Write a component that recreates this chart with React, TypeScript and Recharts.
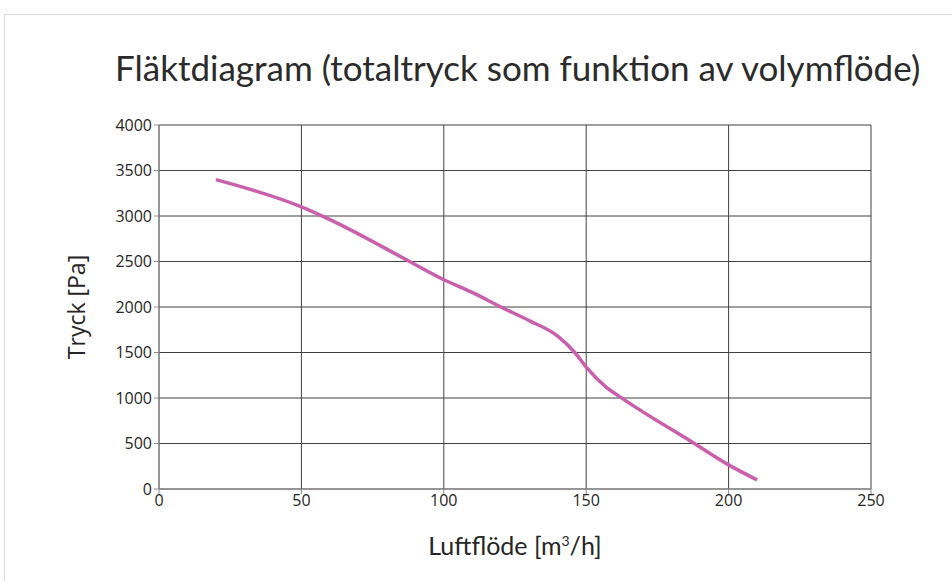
import React from 'react'
import { LineChart, Line, XAxis, YAxis, CartesianGrid } from 'recharts'

// Fläktkurva
const flow = [20, 50, 60, 88, 100, 110, 120, 130, 140, 146, 150, 157, 162, 188, 200, 210]
const pressure = [3400, 3100, 2960, 2500, 2300, 2160, 2000, 1850, 1680, 1500, 1340, 1120, 1010, 500, 265, 100]

const xTicks = [0, 50, 100, 150, 200, 250]
const yTicks = [0, 500, 1000, 1500, 2000, 2500, 3000, 3500, 4000]

const data = flow.map((f, i) => ({ flow: f, pressure: pressure[i] }))

const W = 952
const H = 581

export default function App() {
  return (
    <div style={{ position: 'absolute', left: 0, top: 0, width: W, height: H, overflow: 'hidden', background: '#fff' }}>
      <div style={{ position: 'absolute', left: 4, top: 14, width: 1000, height: 700, border: '1px solid #d9d9d9', boxSizing: 'border-box' }} />
      <div style={{ position: 'absolute', left: 115, top: 50, fontFamily: 'Lato, sans-serif', fontSize: 35, color: '#2b2b2b', whiteSpace: 'nowrap', lineHeight: '35px' }}>
        Fläktdiagram (totaltryck som funktion av volymflöde)
      </div>
      <div style={{ position: 'absolute', left: 0, top: 0 }}>
        <LineChart width={W} height={H} data={data} margin={{ top: 125, right: 81, bottom: 62, left: 99 }}>
          <CartesianGrid stroke="#404040" strokeWidth={1} />
          <XAxis
            type="number"
            dataKey="flow"
            domain={[0, 250]}
            ticks={xTicks}
            height={30}
            stroke="#8c8c8c"
            tickSize={5}
            tickMargin={1}
            tick={{ fontSize: 16, fill: '#262626', fontFamily: '"Open Sans", sans-serif' }}
          />
          <YAxis
            type="number"
            dataKey="pressure"
            domain={[0, 4000]}
            ticks={yTicks}
            width={60}
            stroke="#8c8c8c"
            tickSize={5}
            tickMargin={2}
            tick={{ fontSize: 16, fill: '#262626', fontFamily: '"Open Sans", sans-serif' }}
          />
          <Line
            type="monotone"
            dataKey="pressure"
            stroke="#c95fad"
            strokeWidth={3.5}
            dot={false}
            isAnimationActive={false}
          />
        </LineChart>
      </div>
      <div style={{ position: 'absolute', left: 76, top: 307, transform: 'translate(-50%, -50%) rotate(-90deg)', fontFamily: '"Open Sans", sans-serif', fontSize: 23, color: '#262626', whiteSpace: 'nowrap' }}>
        Tryck [Pa]
      </div>
      <div style={{ position: 'absolute', left: 515, top: 545, transform: 'translate(-50%, -50%)', fontFamily: 'Lato, sans-serif', fontSize: 25, color: '#262626', whiteSpace: 'nowrap' }}>
        Luftflöde [m<sup style={{ fontSize: 14 }}>3</sup>/h]
      </div>
    </div>
  )
}
